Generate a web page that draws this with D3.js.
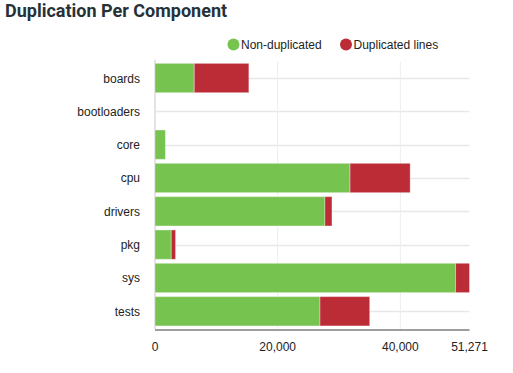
<!DOCTYPE html>
<html><head><meta charset="utf-8">
<script src="https://cdn.jsdelivr.net/npm/d3@7"></script>
<style>body{margin:0;background:#fff}svg{display:block}</style>
</head><body>
<script>
const categories = ["boards","bootloaders","core","cpu","drivers","pkg","sys","tests"];
const nonDuplicated = [6400, 0, 1700, 31800, 27700, 2650, 49000, 26900];
const duplicated = [8900, 0, 0, 9800, 1150, 700, 2271, 8100];
const seriesNames = ["Non-duplicated","Duplicated lines"];
const colors = ["#77c34f","#bb2c37"];
const tickValues = [0, 20000, 40000, 51271];
const xMax = 51271;

const W = 513, H = 373;
const svg = d3.select("body").append("svg").attr("width", W).attr("height", H);
const mLeft = 155, mRight = 469.5, mTop = 61.7, mBottom = 327.6;

const x = d3.scaleLinear().domain([0, xMax]).range([mLeft, mRight]);
const y = d3.scaleBand().domain(categories).range([mTop, mBottom]).paddingInner(0.12).paddingOuter(0.05);

svg.append("text").attr("x", 5).attr("y", 17).attr("font-family", "Roboto").attr("font-weight", "bold")
  .attr("font-size", 18).attr("fill", "#263238").text("Duplication Per Component");

// legend
const legX = [233.5, 346];
seriesNames.forEach((n, i) => {
  svg.append("circle").attr("cx", legX[i]).attr("cy", 44.5).attr("r", 6).attr("fill", colors[i]);
  svg.append("text").attr("x", legX[i] + 7.5).attr("y", 49).attr("font-family", "Liberation Sans, Arial")
    .attr("font-size", 12).attr("fill", "#222").text(n);
});

// gridlines
svg.append("g").selectAll("line").data(categories).join("line")
  .attr("x1", mLeft).attr("x2", mRight)
  .attr("y1", d => Math.round(y(d) + y.bandwidth() / 2) + 0.5)
  .attr("y2", d => Math.round(y(d) + y.bandwidth() / 2) + 0.5)
  .attr("stroke", "#e8e8e8").attr("stroke-width", 1.5);
svg.append("g").selectAll("line").data([20000, 40000]).join("line")
  .attr("x1", d => x(d)).attr("x2", d => x(d)).attr("y1", mTop).attr("y2", 329)
  .attr("stroke", "#ededed").attr("stroke-width", 1);
svg.append("line").attr("x1", mLeft).attr("x2", mLeft).attr("y1", mTop - 2).attr("y2", 329)
  .attr("stroke", "#e3e3e3").attr("stroke-width", 2);

// bars
const stackData = categories.map((c, i) => ({cat: c, a: nonDuplicated[i], b: duplicated[i]}));
const stack = d3.stack().keys(["a","b"])(stackData);
stack.forEach((layer, li) => {
  svg.append("g").selectAll("rect").data(layer.filter(d => d[1] - d[0] > 0)).join("rect")
    .attr("x", d => x(d[0])).attr("width", d => x(d[1]) - x(d[0]))
    .attr("y", d => y(d.data.cat)).attr("height", y.bandwidth())
    .attr("fill", colors[li]).attr("stroke", "rgba(255,255,255,0.35)").attr("stroke-width", 1);
});

// y labels
svg.append("g").selectAll("text").data(categories).join("text")
  .attr("x", 140).attr("y", d => y(d) + y.bandwidth() / 2 + 4.5)
  .attr("text-anchor", "end").attr("font-family", "Liberation Sans, Arial").attr("font-size", 12)
  .attr("fill", "#222").text(d => d);

// x axis
svg.append("line").attr("x1", mLeft).attr("x2", mRight).attr("y1", 330).attr("y2", 330)
  .attr("stroke", "#9e9e9e").attr("stroke-width", 2);
const fmt = d3.format(",");
svg.append("g").selectAll("text").data(tickValues).join("text")
  .attr("x", d => x(d)).attr("y", 351).attr("text-anchor", "middle")
  .attr("font-family", "Liberation Sans, Arial").attr("font-size", 12).attr("fill", "#222")
  .text(d => fmt(d));
</script>
</body></html>
